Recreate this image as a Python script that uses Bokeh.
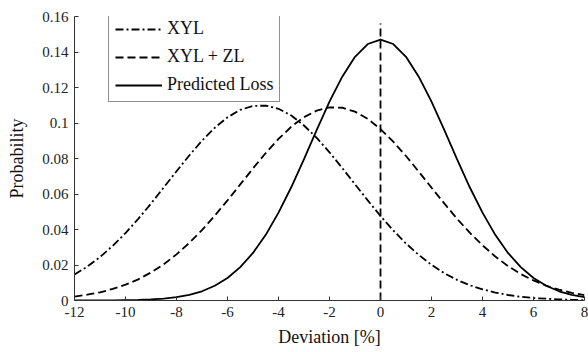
from bokeh.plotting import figure
from bokeh.models import Legend, LegendItem, Range1d, FixedTicker
from bokeh.embed import file_html
from bokeh.resources import INLINE

# Deviation grid [%]
x = [-12, -11.5, -11, -10.5, -10, -9.5, -9, -8.5, -8, -7.5, -7, -6.5, -6, -5.5, -5, -4.5,
     -4, -3.5, -3, -2.5, -2, -1.5, -1, -0.5, 0, 0.5, 1, 1.5, 2, 2.5, 3, 3.5, 4, 4.5,
     5, 5.5, 6, 6.5, 7, 7.5, 8]

xyl = [0.0146, 0.0191, 0.0245, 0.0308, 0.0380, 0.0460, 0.0546, 0.0637, 0.0728, 0.0817,
       0.0900, 0.0973, 0.1032, 0.1074, 0.1096, 0.1098, 0.1080, 0.1042, 0.0986, 0.0916,
       0.0835, 0.0746, 0.0655, 0.0564, 0.0476, 0.0395, 0.0321, 0.0257, 0.0201, 0.0154,
       0.0116, 0.0086, 0.0063, 0.0045, 0.0031, 0.0021, 0.0014, 0.0010, 0.0006, 0.0004, 0.0002]

xyl_zl = [0.0022, 0.0033, 0.0046, 0.0065, 0.0089, 0.0119, 0.0158, 0.0204, 0.0260, 0.0324,
          0.0397, 0.0478, 0.0564, 0.0654, 0.0744, 0.0831, 0.0910, 0.0979, 0.1033, 0.1070,
          0.1088, 0.1086, 0.1064, 0.1023, 0.0966, 0.0895, 0.0814, 0.0726, 0.0636, 0.0547,
          0.0461, 0.0382, 0.0311, 0.0248, 0.0194, 0.0149, 0.0113, 0.0083, 0.0061, 0.0043, 0.0030]

predicted = [0.0000, 0.0000, 0.0000, 0.0001, 0.0002, 0.0003, 0.0006, 0.0011, 0.0019, 0.0032,
             0.0052, 0.0083, 0.0127, 0.0188, 0.0268, 0.0370, 0.0495, 0.0638, 0.0797, 0.0961,
             0.1120, 0.1261, 0.1373, 0.1445, 0.1470, 0.1445, 0.1373, 0.1261, 0.1120, 0.0961,
             0.0797, 0.0638, 0.0495, 0.0370, 0.0268, 0.0188, 0.0127, 0.0083, 0.0052, 0.0032, 0.0019]

vline_x = [0, 0]
vline_y = [0, 0.156]

x_ticks = [-12, -10, -8, -6, -4, -2, 0, 2, 4, 6, 8]
x_tick_labels = ["-12", "-10", "-8", "-6", "-4", "-2", "0", "2", "4", "6", "8"]
y_ticks = [0, 0.02, 0.04, 0.06, 0.08, 0.1, 0.12, 0.14, 0.16]
y_tick_labels = ["0", "0.02", "0.04", "0.06", "0.08", "0.1", "0.12", "0.14", "0.16"]

series_names = ["XYL", "XYL + ZL", "Predicted Loss"]

FONT = "Liberation Serif"

p = figure(width=588, height=352, output_backend="svg", toolbar_location=None,
           x_range=Range1d(-12, 8), y_range=Range1d(0, 0.16),
           min_border_left=74, min_border_right=4, min_border_top=16, min_border_bottom=52)
p.outline_line_color = None
p.background_fill_color = "white"
p.border_fill_color = "white"
p.xgrid.visible = False
p.ygrid.visible = False

lw = 1.8
r1 = p.line(x, xyl, line_color="black", line_width=lw, line_dash="8 3 2 3")
r2 = p.line(x, xyl_zl, line_color="black", line_width=lw, line_dash="8 4")
r3 = p.line(x, predicted, line_color="black", line_width=lw)
p.line(vline_x, vline_y, line_color="black", line_width=lw, line_dash="8 4")

for ax, ticks, labels in ((p.xaxis[0], x_ticks, x_tick_labels), (p.yaxis[0], y_ticks, y_tick_labels)):
    ax.ticker = FixedTicker(ticks=ticks)
    ax.major_label_overrides = {t: l for t, l in zip(ticks, labels)}
    ax.major_tick_in = 4
    ax.major_tick_out = 0
    ax.minor_tick_in = 0
    ax.minor_tick_out = 0
    ax.axis_line_color = "#333333"
    ax.major_tick_line_color = "#333333"
    ax.major_label_text_font = FONT
    ax.major_label_text_font_size = "15px"
    ax.major_label_text_color = "#222222"
    ax.axis_label_text_font = FONT
    ax.axis_label_text_font_size = "18px"
    ax.axis_label_text_font_style = "normal"
    ax.axis_label_text_color = "#111111"

p.xaxis.axis_label = "Deviation [%]"
p.yaxis.axis_label = "Probability"
p.xaxis.major_label_standoff = 6
p.yaxis.major_label_standoff = 6
p.xaxis.axis_label_standoff = 7
p.yaxis.axis_label_standoff = 12

legend = Legend(items=[LegendItem(label=series_names[0], renderers=[r1]),
                       LegendItem(label=series_names[1], renderers=[r2]),
                       LegendItem(label=series_names[2], renderers=[r3])],
                location=(34, 198))
legend.border_line_color = "#222222"
legend.border_line_width = 1
legend.background_fill_color = "white"
legend.background_fill_alpha = 1
legend.label_text_font = FONT
legend.label_text_font_size = "18px"
legend.label_text_color = "#111111"
legend.glyph_width = 47
legend.glyph_height = 20
legend.label_height = 20
legend.label_standoff = 5
legend.spacing = 7
legend.padding = 6
legend.margin = 0
p.add_layout(legend, "center")

open("out.html", "w").write(file_html(p, INLINE))
